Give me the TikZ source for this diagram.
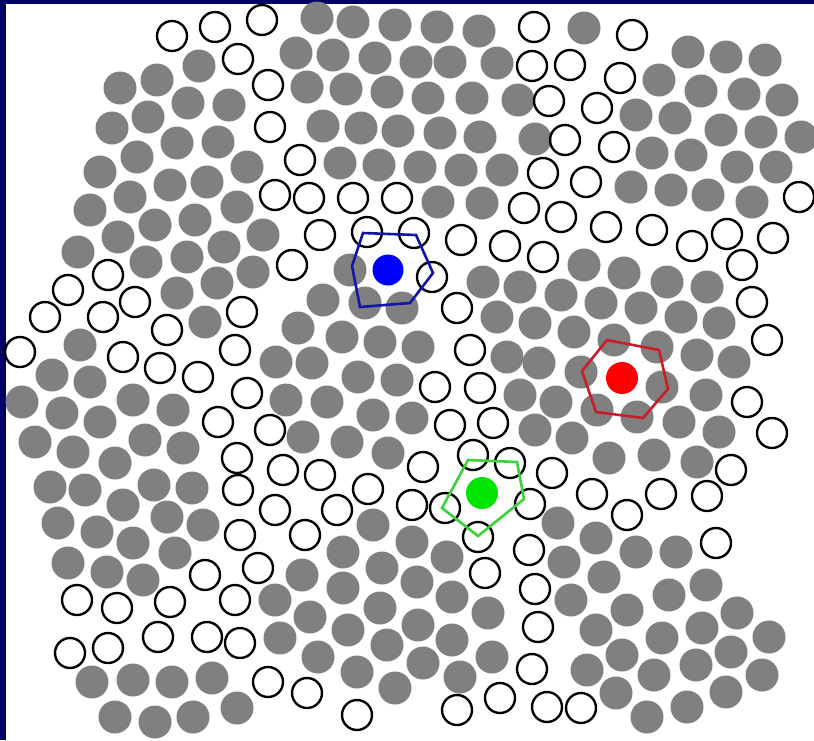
\documentclass[tikz,border=0pt]{standalone}
\definecolor{frameblue}{RGB}{0,0,102}
\definecolor{disc}{RGB}{128,128,128}
\definecolor{blueshell}{RGB}{20,20,170}
\definecolor{redshell}{RGB}{200,30,40}
\definecolor{greenshell}{RGB}{60,210,60}
\begin{document}
\begin{tikzpicture}[x=1pt,y=-1pt,
  full/.style={fill=disc},
  empty/.style={draw=black,line width=2.4pt},
  shell/.style={line width=2.6pt,line join=miter}]
\useasboundingbox (0,0) rectangle (814,740);
\fill[white] (0,0) rectangle (814,740);
\fill[frameblue] (0,0) rectangle (814,4);
\fill[frameblue] (0,0) rectangle (6,740);
% filled discs
\foreach \x/\y in {199/66, 157/80, 120/88, 188/103, 229/105, 148/117, 112/128, 177/143, 218/142, 137/157,
  100/172, 170/185, 207/182, 247/167, 130/197, 90/210, 237/207, 195/220, 155/225, 118/237, 78/252, 224/247,
  263/235, 187/257, 146/262, 217/283, 177/293, 253/272, 205/322, 80/345, 52/375, 90/382, 22/402, 62/413,
  100/422, 133/400, 173/410, 35/442, 73/452, 115/463, 145/440, 183/448, 50/487, 85/490, 154/485, 192/488,
  276/362, 286/400, 123/505, 58/523, 97/532, 167/517, 203/525, 133/543, 175/553, 68/563, 107/572, 143/580,
  275/600, 280/638, 92/682, 133/680, 172/682, 212/678, 115/717, 155/722, 193/717, 237/708,
  350/270, 323/300, 365/303, 402/308, 483/282, 520/287, 497/317, 535/323, 298/328, 342/337, 380/342,
  418/347, 507/357, 539/363, 312/363, 358/377, 397/380, 520/395, 327/402, 373/415, 412/418, 535/430,
  303/437, 347/442, 388/453,
  317/18, 353/22, 395/25, 437/27, 479/31, 296/53, 333/55, 375/58, 416/62, 450/62, 497/63, 307/87, 346/89,
  387/92, 428/98, 472/98, 518/100, 323/126, 361/128, 398/131, 440/133, 480/137, 535/139, 340/163, 379/165,
  420/167, 461/170, 502/170, 438/202, 482/203,
  584/28, 688/52, 726/57, 765/60, 659/80, 701/91, 744/94, 782/100, 636/115, 675/118, 721/130, 761/132,
  801/137, 652/153, 691/155, 737/167, 776/167, 631/187, 671/190, 708/195, 752/202,
  584/265, 624/273, 667/282, 707/287, 561/295, 601/303, 641/308, 681/317, 719/323, 574/332, 614/340,
  657/347, 697/355, 734/362, 581/372, 662/387, 556/402, 597/410, 637/417, 679/422, 706/395, 572/438,
  719/432, 609/458, 654/455, 697/462,
  373/525, 412/542, 447/557, 343/552, 302/575, 382/568, 417/582, 452/597, 488/613, 343/588, 310/617,
  380/608, 418/625, 452/640, 492/657, 348/630, 318/657, 387/645, 423/663, 460/677, 357/672, 395/688,
  558/523, 596/538, 636/552, 676/552, 564/562, 604/577, 706/585, 669/595, 571/600, 627/610, 737/613,
  596/630, 662/638, 702/628, 769/637, 622/655, 731/652, 587/670, 654/675, 696/665, 762/675, 616/693,
  726/692, 687/707, 647/717}
  \fill[full] (\x,\y) circle (16.5pt);
% open discs
\foreach \x/\y in {172/36, 215/27, 262/20, 238/59, 268/85, 270/127, 275/195, 534/27, 532/66, 549/101,
  300/160, 543/173, 309/198, 353/198, 397/198, 524/208, 320/235, 367/232, 414/233, 461/240, 505/246,
  543/257, 632/35, 570/65, 620/78, 597/108, 565/140, 614/147, 586/182, 799/197, 561/217, 606/227,
  652/230, 692/246, 727/234, 773/238, 742/265, 752/302, 767/340, 747/402, 772/433, 552/473, 731/470,
  592/494, 661/494, 707/496, 627/515, 716/543, 547/707, 581/708, 530/504, 529/550, 535/589, 538/627,
  532/669, 275/510, 337/510, 368/489, 412/505, 445/508, 305/535, 478/537, 485/573, 500/698, 457/710,
  357/715, 307/693, 268/682, 292/265, 432/277, 457/308, 470/350, 435/387, 480/388, 450/425, 493/423,
  270/430, 283/470, 320/475, 423/467, 473/455, 510/463, 108/275, 68/290, 45/317, 103/317,
  135/302, 167/330, 242/312, 235/350, 20/352, 123/357, 160/368, 198/377, 247/393, 218/422, 237/458,
  238/490, 240/535, 258/568, 205/575, 77/600, 117/608, 170/602, 235/600, 158/637, 207/637, 240/643,
  70/653, 108/648}
  \draw[empty] (\x,\y) circle (15pt);
% tagged discs and their neighbour shells
\draw[shell, blueshell] (363,233) -- (416,235) -- (433,273) -- (410,303) -- (360,307) -- (352,266) -- cycle;
\fill[blue] (388,270) circle (15.5pt);
\draw[shell, redshell] (607,340) -- (659,350) -- (668,389) -- (643,418) -- (596,412) -- (582,371) -- cycle;
\fill[red] (622,378) circle (16pt);
\draw[shell, greenshell] (468,460) -- (517,462) -- (524,499) -- (478,536) -- (442,508) -- cycle;
\fill[green!90!black] (482,493) circle (16pt);
\end{tikzpicture}
\end{document}
